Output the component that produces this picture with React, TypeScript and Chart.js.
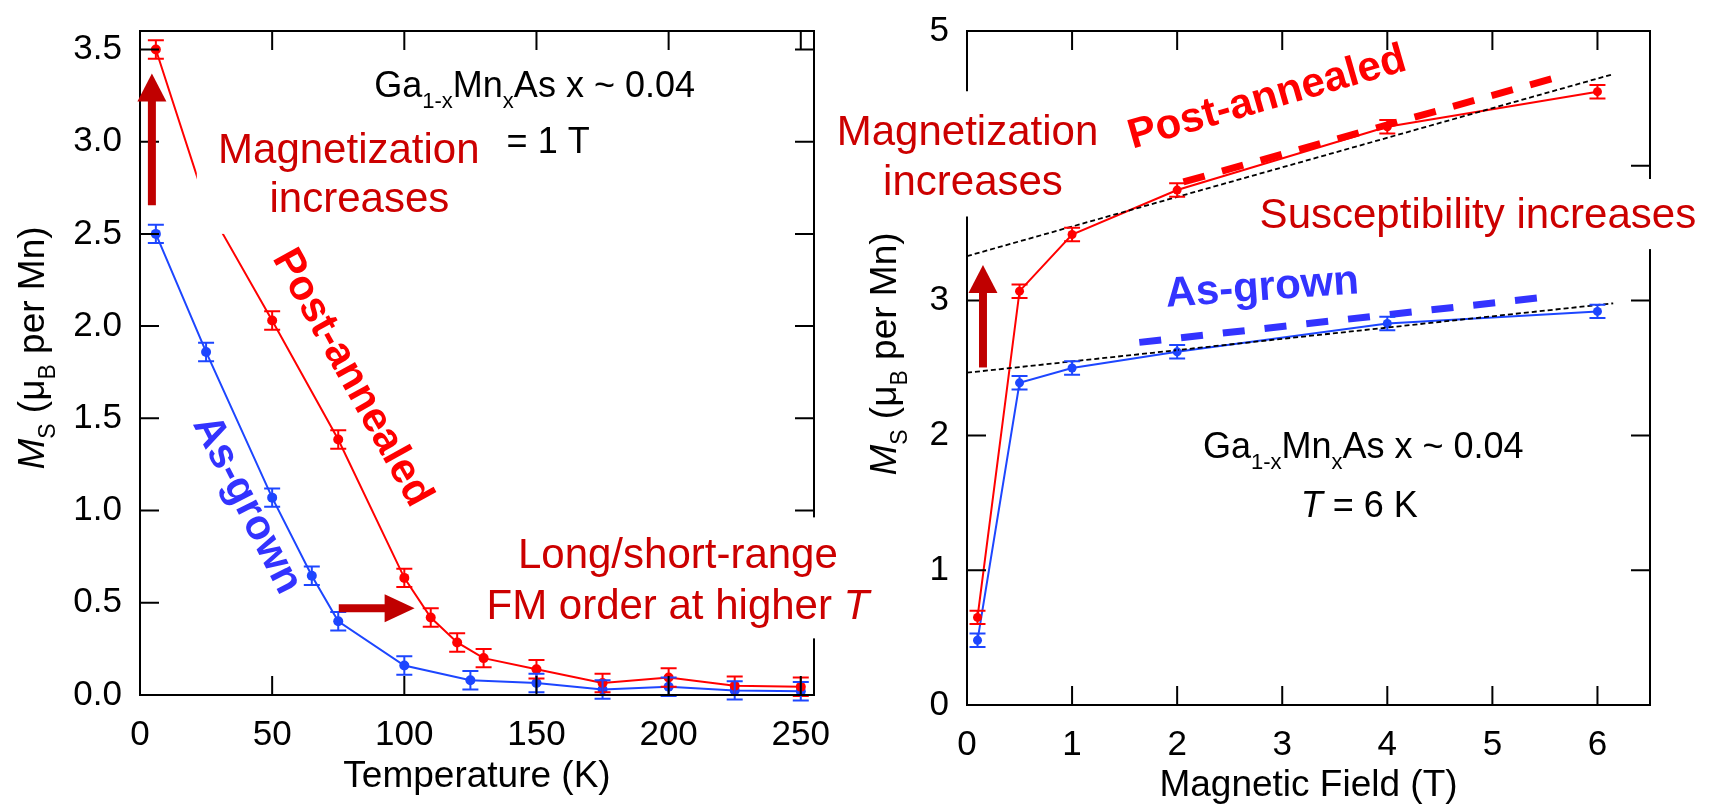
import React, { useEffect, useRef } from 'react';
import { Chart, registerables } from 'chart.js';

Chart.register(...registerables);

const W = 1713;
const H = 808;
const FONT = "'Liberation Sans', Arial, Helvetica, sans-serif";

// ---------- Left panel: M_S vs temperature (1 T) ----------
const tempAnnealed = [6, 25, 50, 75, 100, 110, 120, 130, 150, 175, 200, 225, 250];
const msTempAnnealed = [3.5, 2.66, 2.03, 1.385, 0.635, 0.42, 0.285, 0.2, 0.14, 0.065, 0.095, 0.05, 0.045];
const errTempAnnealed = [0.05, 0.05, 0.05, 0.05, 0.05, 0.05, 0.05, 0.05, 0.05, 0.05, 0.05, 0.05, 0.05];
const tempAsGrown = [6, 25, 50, 65, 75, 100, 125, 150, 175, 200, 225, 250];
const msTempAsGrown = [2.5, 1.86, 1.07, 0.647, 0.4, 0.16, 0.08, 0.065, 0.03, 0.045, 0.025, 0.02];
const errTempAsGrown = [0.05, 0.05, 0.05, 0.05, 0.05, 0.05, 0.05, 0.05, 0.05, 0.05, 0.05, 0.05];
const tempTicks = [0, 50, 100, 150, 200, 250];
const msTempTicks = [0, 0.5, 1, 1.5, 2, 2.5, 3, 3.5];

// ---------- Right panel: M_S vs magnetic field (6 K) ----------
const fieldAnnealed = [0.1, 0.5, 1, 2, 4, 6];
const msFieldAnnealed = [0.65, 3.07, 3.49, 3.82, 4.29, 4.55];
const errFieldAnnealed = [0.05, 0.05, 0.05, 0.05, 0.05, 0.05];
const fieldAsGrown = [0.1, 0.5, 1, 2, 4, 6];
const msFieldAsGrown = [0.48, 2.39, 2.5, 2.62, 2.83, 2.92];
const errFieldAsGrown = [0.05, 0.05, 0.05, 0.05, 0.05, 0.05];
const fitAnnealedField = [0, 6.15];
const fitAnnealedMs = [3.33, 4.68];
const fitAsGrownField = [0, 6.15];
const fitAsGrownMs = [2.465, 2.98];
const guideAnnealedField = [2.06, 5.63];
const guideAnnealedMs = [3.88, 4.66];
const guideAsGrownField = [1.64, 5.44];
const guideAsGrownMs = [2.69, 3.02];
const fieldTicks = [0, 1, 2, 3, 4, 5, 6];
const msFieldTicks = [0, 1, 2, 3, 4, 5];

const RED = '#ff0000';
const BLUE = '#1d46ff';
const LABEL_BLUE = '#3333ff';
const NOTE_RED = '#cc0000';
const ARROW_RED = '#c00000';

type Seg = { t: string; i?: boolean; b?: boolean; sub?: boolean };
type Note = {
  segs: Seg[];
  x: number;
  y: number;
  size: number;
  color: string;
  align: 'left' | 'center' | 'right';
  angle?: number;
  baseline?: CanvasTextBaseline;
};
type Box = { x0: number; x1: number; y0: number; y1: number };
type Arrow = { x0: number; y0: number; x1: number; y1: number; shaft: number; headLen: number; headHalf: number };
type ErrSet = { xs: number[]; ys: number[]; errs: number[]; color: string };
type YTitle = { baseX: number; centerY: number; size: number };

const pts = (xs: number[], ys: number[]) => xs.map((x, k) => ({ x, y: ys[k] }));

function drawRich(
  ctx: CanvasRenderingContext2D,
  segs: Seg[],
  x: number,
  y: number,
  size: number,
  color: string,
  align: 'left' | 'center' | 'right',
  baseline: CanvasTextBaseline
) {
  const subScale = 0.62;
  const fontOf = (s: Seg) =>
    `${s.i ? 'italic ' : ''}${s.b ? 'bold ' : ''}${s.sub ? Math.round(size * subScale) : size}px ${FONT}`;
  const widths: number[] = [];
  let total = 0;
  for (const s of segs) {
    ctx.font = fontOf(s);
    const w = ctx.measureText(s.t).width;
    widths.push(w);
    total += w;
  }
  let cx = align === 'left' ? x : align === 'center' ? x - total / 2 : x - total;
  ctx.fillStyle = color;
  ctx.textAlign = 'left';
  ctx.textBaseline = baseline;
  segs.forEach((s, k) => {
    ctx.font = fontOf(s);
    ctx.fillText(s.t, cx, y + (s.sub ? size * 0.3 : 0));
    cx += widths[k];
  });
}

function makeOverlay(name: string, errSets: ErrSet[], boxes: Box[], notes: Note[], arrows: Arrow[], yTitle: YTitle) {
  return {
    id: 'overlay-' + name,
    afterDatasetsDraw(chart: any) {
      const { ctx, scales } = chart;
      const sx = scales.x;
      const sy = scales.y;
      ctx.save();
      ctx.lineWidth = 2;
      for (const set of errSets) {
        ctx.strokeStyle = set.color;
        ctx.beginPath();
        set.xs.forEach((xv, k) => {
          const px = sx.getPixelForValue(xv);
          const pTop = sy.getPixelForValue(set.ys[k] + set.errs[k]);
          const pBot = sy.getPixelForValue(set.ys[k] - set.errs[k]);
          ctx.moveTo(px, pTop);
          ctx.lineTo(px, pBot);
          ctx.moveTo(px - 8, pTop);
          ctx.lineTo(px + 8, pTop);
          ctx.moveTo(px - 8, pBot);
          ctx.lineTo(px + 8, pBot);
        });
        ctx.stroke();
      }
      ctx.restore();
    },
    afterDraw(chart: any) {
      const { ctx, chartArea: a, scales } = chart;
      const sx = scales.x;
      const sy = scales.y;
      const tickLen = 19;
      ctx.save();
      // frame and inward ticks on all four sides
      ctx.strokeStyle = '#000';
      ctx.lineWidth = 2;
      ctx.strokeRect(a.left, a.top, a.right - a.left, a.bottom - a.top);
      ctx.beginPath();
      for (const t of sx.ticks) {
        const px = sx.getPixelForValue(t.value);
        ctx.moveTo(px, a.bottom);
        ctx.lineTo(px, a.bottom - tickLen);
        ctx.moveTo(px, a.top);
        ctx.lineTo(px, a.top + tickLen);
      }
      for (const t of sy.ticks) {
        const py = sy.getPixelForValue(t.value);
        ctx.moveTo(a.left, py);
        ctx.lineTo(a.left + tickLen, py);
        ctx.moveTo(a.right, py);
        ctx.lineTo(a.right - tickLen, py);
      }
      ctx.stroke();

      // white backgrounds behind annotations
      ctx.fillStyle = '#ffffff';
      for (const b of boxes) {
        const x0 = sx.getPixelForValue(b.x0);
        const x1 = sx.getPixelForValue(b.x1);
        const y0 = sy.getPixelForValue(b.y0);
        const y1 = sy.getPixelForValue(b.y1);
        ctx.fillRect(Math.min(x0, x1), Math.min(y0, y1), Math.abs(x1 - x0), Math.abs(y1 - y0));
      }

      // annotation texts
      for (const n of notes) {
        const px = sx.getPixelForValue(n.x);
        const py = sy.getPixelForValue(n.y);
        ctx.save();
        ctx.translate(px, py);
        if (n.angle) ctx.rotate((n.angle * Math.PI) / 180);
        drawRich(ctx, n.segs, 0, 0, n.size, n.color, n.align, n.baseline || 'alphabetic');
        ctx.restore();
      }

      // arrows
      for (const ar of arrows) {
        const tx = sx.getPixelForValue(ar.x0);
        const ty = sy.getPixelForValue(ar.y0);
        const hx = sx.getPixelForValue(ar.x1);
        const hy = sy.getPixelForValue(ar.y1);
        const len = Math.hypot(hx - tx, hy - ty);
        const ux = (hx - tx) / len;
        const uy = (hy - ty) / len;
        const bx = hx - ux * ar.headLen;
        const by = hy - uy * ar.headLen;
        ctx.strokeStyle = ARROW_RED;
        ctx.fillStyle = ARROW_RED;
        ctx.lineWidth = ar.shaft;
        ctx.lineCap = 'butt';
        ctx.beginPath();
        ctx.moveTo(tx, ty);
        ctx.lineTo(bx + ux, by + uy);
        ctx.stroke();
        ctx.beginPath();
        ctx.moveTo(hx, hy);
        ctx.lineTo(bx - uy * ar.headHalf, by + ux * ar.headHalf);
        ctx.lineTo(bx + uy * ar.headHalf, by - ux * ar.headHalf);
        ctx.closePath();
        ctx.fill();
      }

      // rotated y-axis title with italic M and subscripts
      ctx.save();
      ctx.translate(yTitle.baseX, yTitle.centerY);
      ctx.rotate(-Math.PI / 2);
      drawRich(
        ctx,
        [{ t: 'M', i: true }, { t: 'S', sub: true }, { t: ' (μ' }, { t: 'B', sub: true }, { t: ' per Mn)' }],
        0,
        0,
        yTitle.size,
        '#000',
        'center',
        'alphabetic'
      );
      ctx.restore();
      ctx.restore();
    },
  };
}

const gaMnAs: Seg[] = [{ t: 'Ga' }, { t: '1-x', sub: true }, { t: 'Mn' }, { t: 'x', sub: true }, { t: 'As x ~ 0.04' }];

function baseScales(
  xMin: number,
  xMax: number,
  yMin: number,
  yMax: number,
  xTicks: number[],
  yTicks: number[],
  yFmt: (v: number) => string,
  yWidth: number,
  xHeight: number,
  xTitle: string,
  xTitlePad: number,
  xTickPad: number
) {
  return {
    x: {
      type: 'linear',
      position: 'bottom',
      min: xMin,
      max: xMax,
      afterBuildTicks: (s: any) => {
        s.ticks = xTicks.map((v) => ({ value: v }));
      },
      afterFit: (s: any) => {
        s.height = xHeight;
      },
      ticks: {
        autoSkip: false,
        maxRotation: 0,
        minRotation: 0,
        padding: xTickPad,
        color: '#000',
        font: { family: FONT, size: 35 },
        callback: (v: any) => String(v),
      },
      grid: { display: false },
      border: { display: false },
      title: {
        display: true,
        text: xTitle,
        color: '#000',
        font: { family: FONT, size: 37 },
        padding: { top: 0, bottom: xTitlePad },
      },
    },
    y: {
      type: 'linear',
      position: 'left',
      min: yMin,
      max: yMax,
      afterBuildTicks: (s: any) => {
        s.ticks = yTicks.map((v) => ({ value: v }));
      },
      afterFit: (s: any) => {
        s.width = yWidth;
      },
      ticks: {
        autoSkip: false,
        padding: 10,
        color: '#000',
        font: { family: FONT, size: 35 },
        callback: (v: any) => yFmt(Number(v)),
      },
      grid: { display: false },
      border: { display: false },
    },
  };
}

const commonOptions = {
  responsive: false,
  maintainAspectRatio: false,
  animation: false,
  devicePixelRatio: 1,
  events: [],
};

function leftConfig(): any {
  const notes: Note[] = [
    { segs: gaMnAs, x: 149.3, y: 3.242, size: 36, color: '#000', align: 'center' },
    { segs: [{ t: '= 1 T' }], x: 138.7, y: 2.936, size: 36, color: '#000', align: 'left' },
    { segs: [{ t: 'Magnetization' }], x: 79, y: 2.883, size: 42, color: NOTE_RED, align: 'center' },
    { segs: [{ t: 'increases' }], x: 83, y: 2.618, size: 42, color: NOTE_RED, align: 'center' },
    { segs: [{ t: 'Post-annealed', b: true }], x: 80.1, y: 1.719, size: 42, color: RED, align: 'center', angle: 61, baseline: 'middle' },
    { segs: [{ t: 'As-grown', b: true }], x: 40.4, y: 1.031, size: 42, color: LABEL_BLUE, align: 'center', angle: 63, baseline: 'middle' },
    { segs: [{ t: 'Long/short-range' }], x: 203.5, y: 0.688, size: 42, color: NOTE_RED, align: 'center' },
    { segs: [{ t: 'FM order at higher ' }, { t: 'T', i: true }], x: 203.5, y: 0.413, size: 42, color: NOTE_RED, align: 'center' },
  ];
  const boxes: Box[] = [
    { x0: 21.5, x1: 131, y0: 2.5, y1: 3.15 },
    { x0: 127.7, x1: 282, y0: 0.307, y1: 0.963 },
  ];
  const arrows: Arrow[] = [
    { x0: 4.5, y0: 2.655, x1: 4.5, y1: 3.369, shaft: 8, headLen: 28, headHalf: 14.5 },
    { x0: 75.2, y0: 0.471, x1: 103.9, y1: 0.471, shaft: 8, headLen: 30, headHalf: 14 },
  ];
  const errSets: ErrSet[] = [
    { xs: tempAnnealed, ys: msTempAnnealed, errs: errTempAnnealed, color: RED },
    { xs: tempAsGrown, ys: msTempAsGrown, errs: errTempAsGrown, color: BLUE },
  ];
  return {
    type: 'scatter',
    data: {
      datasets: [
        {
          label: 'Post-annealed',
          data: pts(tempAnnealed, msTempAnnealed),
          showLine: true,
          borderColor: RED,
          backgroundColor: RED,
          borderWidth: 2,
          pointRadius: 5,
          pointBorderWidth: 0,
          pointBackgroundColor: RED,
        },
        {
          label: 'As-grown',
          data: pts(tempAsGrown, msTempAsGrown),
          showLine: true,
          borderColor: BLUE,
          backgroundColor: BLUE,
          borderWidth: 2,
          pointRadius: 5,
          pointBorderWidth: 0,
          pointBackgroundColor: BLUE,
        },
      ],
    },
    options: {
      ...commonOptions,
      layout: { autoPadding: false, padding: { left: 0, top: 14, right: W - 814, bottom: 0 } },
      plugins: { legend: { display: false }, tooltip: { enabled: false } },
      scales: baseScales(0, 255, 0, 3.6, tempTicks, msTempTicks, (v) => v.toFixed(1), 140, H - 695, 'Temperature (K)', 9, 11),
    },
    plugins: [makeOverlay('left', errSets, boxes, notes, arrows, { baseX: 44, centerY: 348, size: 37 })],
  };
}

function rightConfig(): any {
  const notes: Note[] = [
    { segs: [{ t: 'Magnetization' }], x: 0.005, y: 4.158, size: 42, color: NOTE_RED, align: 'center' },
    { segs: [{ t: 'increases' }], x: 0.057, y: 3.785, size: 42, color: NOTE_RED, align: 'center' },
    { segs: [{ t: 'Post-annealed', b: true }], x: 2.857, y: 4.502, size: 42, color: RED, align: 'center', angle: -16, baseline: 'middle' },
    { segs: [{ t: 'Susceptibility increases' }], x: 4.862, y: 3.536, size: 42, color: NOTE_RED, align: 'center' },
    { segs: [{ t: 'As-grown', b: true }], x: 2.81, y: 3.09, size: 42, color: LABEL_BLUE, align: 'center', angle: -4, baseline: 'middle' },
    { segs: gaMnAs, x: 3.771, y: 1.83, size: 36, color: '#000', align: 'center' },
    { segs: [{ t: 'T', i: true }, { t: ' = 6 K' }], x: 3.733, y: 1.391, size: 36, color: '#000', align: 'center' },
  ];
  const boxes: Box[] = [
    { x0: -1.32, x1: 1.31, y0: 3.624, y1: 4.553 },
    { x0: 2.695, x1: 7.03, y0: 3.382, y1: 3.902 },
  ];
  const arrows: Arrow[] = [{ x0: 0.152, y0: 2.504, x1: 0.152, y1: 3.265, shaft: 8, headLen: 28, headHalf: 14.5 }];
  const errSets: ErrSet[] = [
    { xs: fieldAnnealed, ys: msFieldAnnealed, errs: errFieldAnnealed, color: RED },
    { xs: fieldAsGrown, ys: msFieldAsGrown, errs: errFieldAsGrown, color: BLUE },
  ];
  const dataLine = (label: string, xs: number[], ys: number[], color: string) => ({
    label,
    data: pts(xs, ys),
    showLine: true,
    borderColor: color,
    backgroundColor: color,
    borderWidth: 2,
    pointRadius: 4.5,
    pointBorderWidth: 0,
    pointBackgroundColor: color,
  });
  const plainLine = (label: string, xs: number[], ys: number[], color: string, width: number, dash: number[]) => ({
    label,
    data: pts(xs, ys),
    showLine: true,
    borderColor: color,
    backgroundColor: color,
    borderWidth: width,
    borderDash: dash,
    borderCapStyle: 'butt',
    pointRadius: 0,
  });
  return {
    type: 'scatter',
    data: {
      datasets: [
        plainLine('Fit post-annealed', fitAnnealedField, fitAnnealedMs, '#000', 1.8, [5, 3]),
        plainLine('Fit as-grown', fitAsGrownField, fitAsGrownMs, '#000', 1.8, [5, 3]),
        dataLine('Post-annealed', fieldAnnealed, msFieldAnnealed, RED),
        dataLine('As-grown', fieldAsGrown, msFieldAsGrown, BLUE),
        plainLine('Slope post-annealed', guideAnnealedField, guideAnnealedMs, RED, 7, [22, 18]),
        plainLine('Slope as-grown', guideAsGrownField, guideAsGrownMs, LABEL_BLUE, 7, [22, 20]),
      ],
    },
    options: {
      ...commonOptions,
      layout: { autoPadding: false, padding: { left: 967 - 120, top: 22, right: W - 1650, bottom: 0 } },
      plugins: { legend: { display: false }, tooltip: { enabled: false } },
      scales: baseScales(0, 6.5, 0, 5, fieldTicks, msFieldTicks, (v) => String(v), 120, H - 705, 'Magnetic Field (T)', 0, 11),
    },
    plugins: [makeOverlay('right', errSets, boxes, notes, arrows, { baseX: 896, centerY: 354, size: 37 })],
  };
}

export default function App() {
  const leftRef = useRef<HTMLCanvasElement>(null);
  const rightRef = useRef<HTMLCanvasElement>(null);

  useEffect(() => {
    Chart.defaults.font.family = FONT;
    const c1 = new Chart(leftRef.current as HTMLCanvasElement, leftConfig());
    const c2 = new Chart(rightRef.current as HTMLCanvasElement, rightConfig());
    return () => {
      c1.destroy();
      c2.destroy();
    };
  }, []);

  const canvasStyle: React.CSSProperties = { position: 'absolute', left: 0, top: 0, width: W, height: H };
  return (
    <div style={{ position: 'fixed', left: 0, top: 0, width: W, height: H, background: '#ffffff', overflow: 'hidden' }}>
      <canvas ref={leftRef} width={W} height={H} style={canvasStyle} />
      <canvas ref={rightRef} width={W} height={H} style={canvasStyle} />
    </div>
  );
}
